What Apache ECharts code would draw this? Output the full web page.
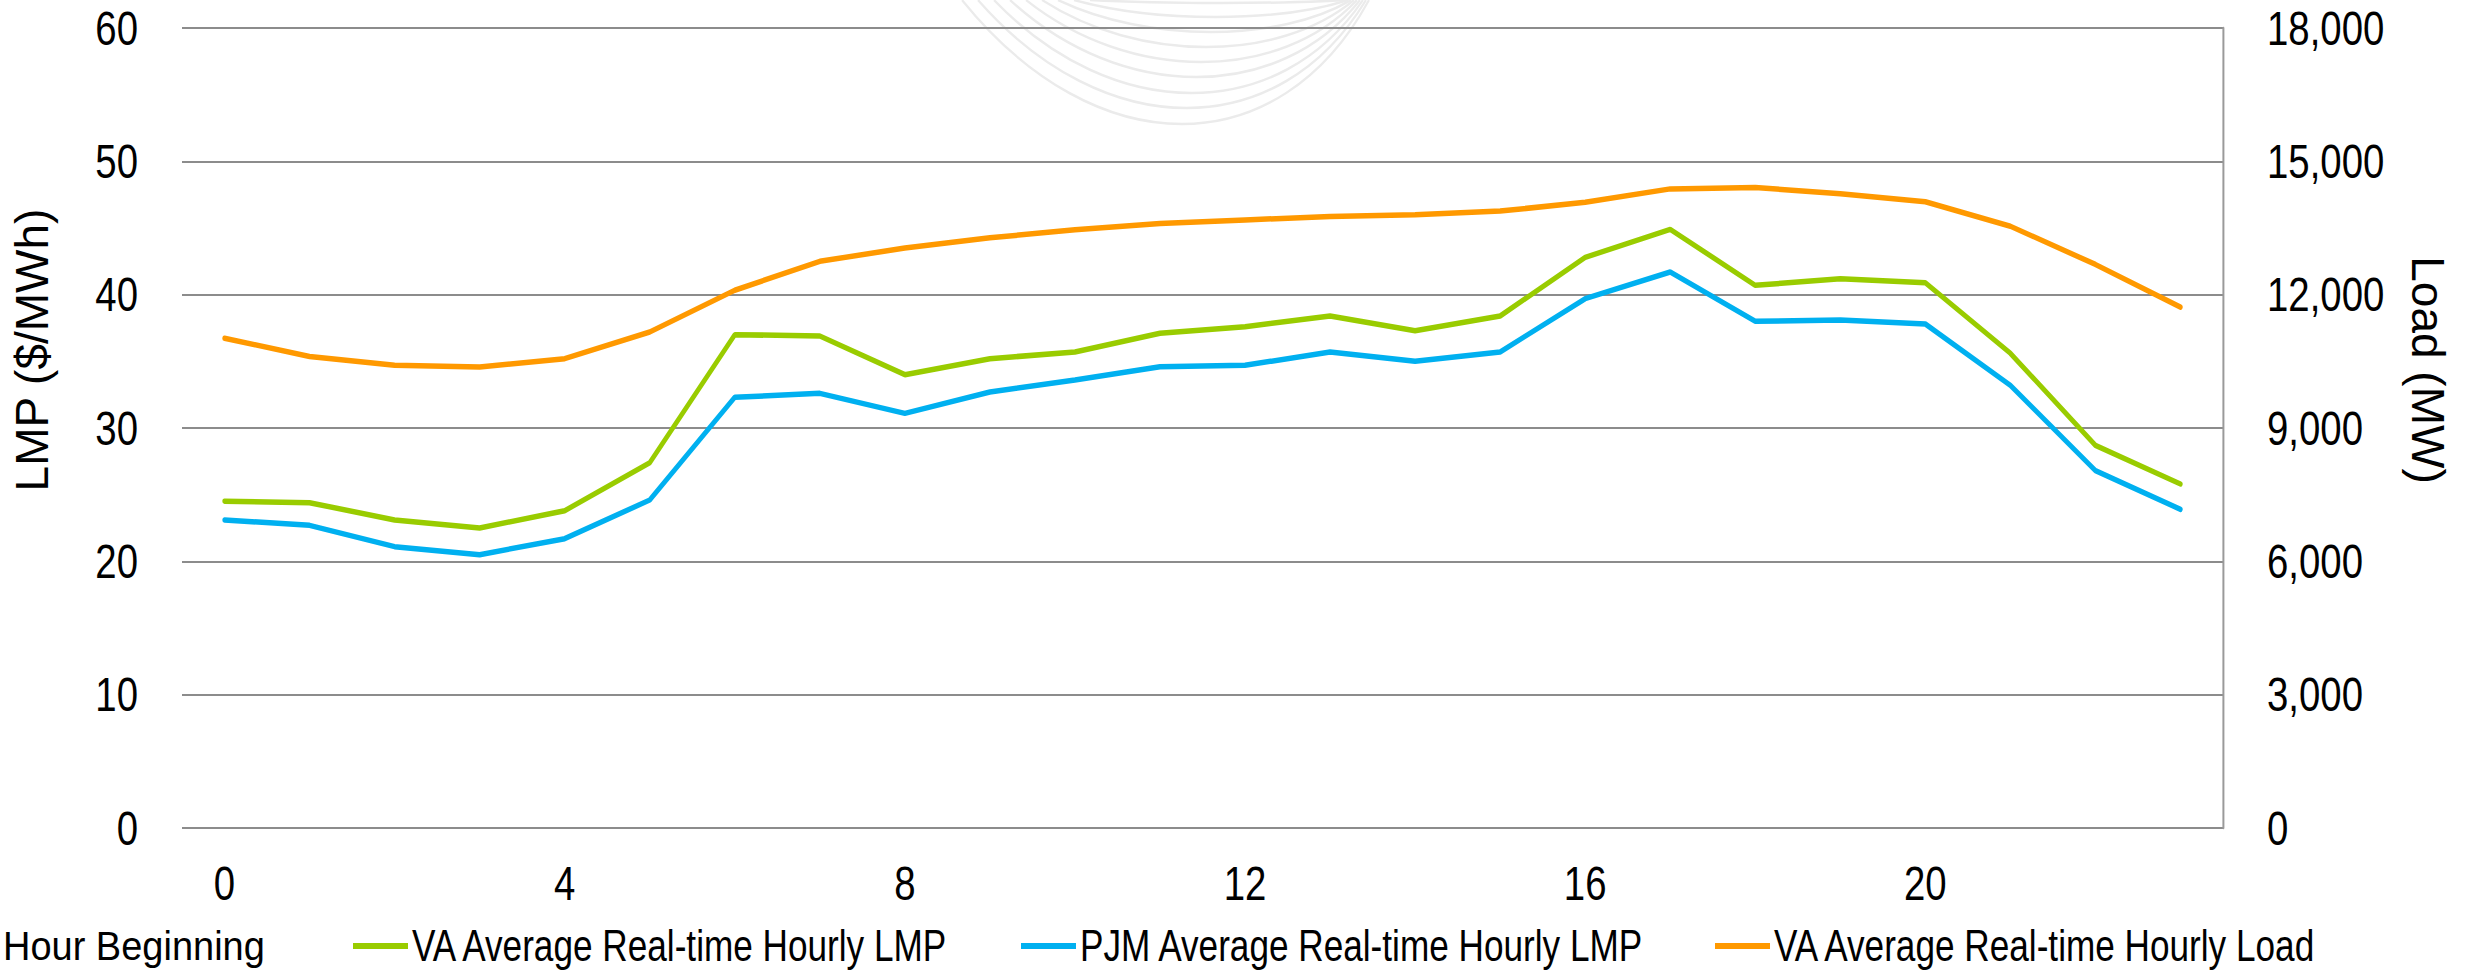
<!DOCTYPE html>
<html>
<head>
<meta charset="utf-8">
<script src="https://cdn.jsdelivr.net/npm/echarts@6/dist/echarts.min.js"></script>
<style>
  html, body { margin: 0; padding: 0; background: #ffffff; overflow: hidden; width: 2478px; height: 973px; }
  #chart { width: 3100px; height: 973px; transform: scaleX(0.799355); transform-origin: 0 0; }
</style>
</head>
<body>
<div id="chart"></div>
<script>
// ---- data ----
const hours = ['0','1','2','3','4','5','6','7','8','9','10','11','12','13','14','15','16','17','18','19','20','21','22','23'];
const vaLmp  = [24.5, 24.4, 23.1, 22.5, 23.8, 27.4, 37.0, 36.9, 34.0, 35.2, 35.7, 37.1, 37.6, 38.4, 37.3, 38.4, 42.8, 44.9, 40.7, 41.2, 40.9, 35.6, 28.7, 25.8];
const pjmLmp = [23.1, 22.7, 21.1, 20.5, 21.7, 24.6, 32.3, 32.6, 31.1, 32.7, 33.6, 34.6, 34.7, 35.7, 35.0, 35.7, 39.7, 41.7, 38.0, 38.1, 37.8, 33.2, 26.8, 23.9];
const vaLoad = [11020, 10610, 10410, 10370, 10560, 11160, 12100, 12750, 13050, 13280, 13460, 13600, 13680, 13760, 13800, 13880, 14080, 14380, 14410, 14270, 14090, 13540, 12680, 11720];
const seriesNames = ['VA Average Real-time Hourly LMP', 'PJM Average Real-time Hourly LMP', 'VA Average Real-time Hourly Load'];
const xTitle = 'Hour Beginning';
const yLeftTitle = 'LMP ($/MWh)';
const yRightTitle = 'Load (MW)';

// ---- styles ----
// The page is drawn in a wider space and squeezed horizontally (condensed type look).
const S = 0.799355;               // horizontal squeeze factor (2478 / 3100)
const px = function (x) { return x / S; };   // convert final-picture x into drawing x
const FONT = "'Liberation Sans', Arial, sans-serif";
const colors = ['#99CC00', '#00B0F0', '#FF9900'];
const gridColor = '#8c8c8c';

// decorative watermark arcs (background logo)
const wm = [];
[3, 17, 32, 47, 62, 77, 93, 108, 124].forEach(function (yb, i) {
  const x1 = 1090 - 16 * i, x2 = 1345 + 3 * i, xb = 1225 - 2.5 * i;
  const c = yb * 4 / 3;
  wm.push({
    type: 'bezierCurve', z: -10, silent: true,
    shape: { x1: px(x1), y1: 0, cpx1: px(x1 + (xb - x1) * 0.55), cpy1: c,
             cpx2: px(x2 - (x2 - xb) * 0.55), cpy2: c, x2: px(x2), y2: 0 },
    style: { stroke: '#ebebeb', lineWidth: 2.5, fill: null }
  });
});

const chart = echarts.init(document.getElementById('chart'), null, { renderer: 'svg' });

function legendAt(left, name) {
  return {
    show: true, left: px(left), top: 924, padding: 0,
    data: [name], icon: 'rect', itemWidth: px(55), itemHeight: 6,
    textStyle: { fontFamily: FONT, fontSize: 44, color: '#000' },
    selectedMode: false
  };
}

chart.setOption({
  backgroundColor: '#ffffff',
  animation: false,
  grid: { left: px(182), right: px(255), top: 28, bottom: 145, containLabel: false },
  legend: [
    legendAt(353, seriesNames[0]),
    legendAt(1021, seriesNames[1]),
    legendAt(1715, seriesNames[2])
  ],
  xAxis: {
    type: 'category', data: hours, boundaryGap: true,
    axisLine: { show: false }, axisTick: { show: false },
    axisLabel: { interval: 3, fontFamily: FONT, fontSize: 48, color: '#000', margin: 31 },
    splitLine: { show: false }
  },
  yAxis: [
    {
      type: 'value', min: 0, max: 60, interval: 10, position: 'left',
      axisLine: { show: false }, axisTick: { show: false },
      axisLabel: { fontFamily: FONT, fontSize: 48, color: '#000', margin: px(44) },
      splitLine: { show: true, lineStyle: { color: gridColor, width: 2 } }
    },
    {
      type: 'value', min: 0, max: 18000, interval: 3000, position: 'right',
      axisLine: { show: true, lineStyle: { color: '#9a9a9a', width: 2.5 } }, axisTick: { show: false },
      axisLabel: { fontFamily: FONT, fontSize: 48, color: '#000', margin: px(44), align: 'left',
        formatter: function (v) { return v.toLocaleString('en-US'); } },
      splitLine: { show: false }
    }
  ],
  series: [
    { name: seriesNames[0], type: 'line', yAxisIndex: 0, data: vaLmp, symbol: 'none',
      lineStyle: { color: colors[0], width: 5.5, cap: 'round' }, itemStyle: { color: colors[0] } },
    { name: seriesNames[1], type: 'line', yAxisIndex: 0, data: pjmLmp, symbol: 'none',
      lineStyle: { color: colors[1], width: 5.5, cap: 'round' }, itemStyle: { color: colors[1] } },
    { name: seriesNames[2], type: 'line', yAxisIndex: 1, data: vaLoad, symbol: 'none',
      lineStyle: { color: colors[2], width: 5.5, cap: 'round' }, itemStyle: { color: colors[2] } }
  ],
  graphic: wm.concat([
    { type: 'text', x: px(3), y: 946, z: 10, scaleX: 0.95 / S,
      style: { text: xTitle, fontFamily: FONT, fontSize: 40, fill: '#000', textAlign: 'left', textVerticalAlign: 'middle' } },
    { type: 'text', x: px(32), y: 350, rotation: Math.PI / 2, scaleY: 1 / S, z: 10,
      style: { text: yLeftTitle, fontFamily: FONT, fontSize: 46, fill: '#000', textAlign: 'center', textVerticalAlign: 'middle' } },
    { type: 'text', x: px(2428), y: 370, rotation: -Math.PI / 2, scaleY: 1 / S, z: 10,
      style: { text: yRightTitle, fontFamily: FONT, fontSize: 46, fill: '#000', textAlign: 'center', textVerticalAlign: 'middle' } }
  ])
});
</script>
</body>
</html>
